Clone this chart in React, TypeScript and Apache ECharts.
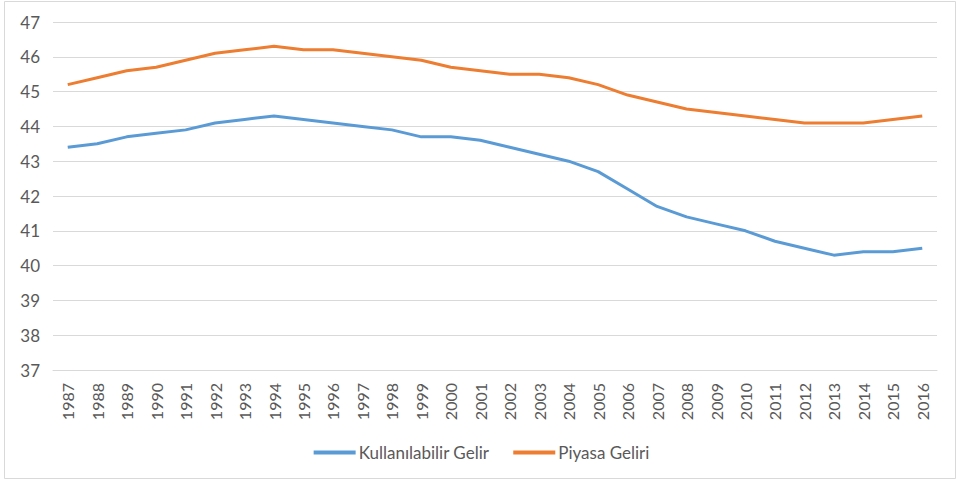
import React, { useEffect, useRef } from "react";
import * as echarts from "echarts";

const years = [
  "1987", "1988", "1989", "1990", "1991", "1992", "1993", "1994", "1995", "1996",
  "1997", "1998", "1999", "2000", "2001", "2002", "2003", "2004", "2005", "2006",
  "2007", "2008", "2009", "2010", "2011", "2012", "2013", "2014", "2015", "2016",
];

const kullanilabilirGelir = [
  43.4, 43.5, 43.7, 43.8, 43.9, 44.1, 44.2, 44.3, 44.2, 44.1,
  44.0, 43.9, 43.7, 43.7, 43.6, 43.4, 43.2, 43.0, 42.7, 42.2,
  41.7, 41.4, 41.2, 41.0, 40.7, 40.5, 40.3, 40.4, 40.4, 40.5,
];

const piyasaGeliri = [
  45.2, 45.4, 45.6, 45.7, 45.9, 46.1, 46.2, 46.3, 46.2, 46.2,
  46.1, 46.0, 45.9, 45.7, 45.6, 45.5, 45.5, 45.4, 45.2, 44.9,
  44.7, 44.5, 44.4, 44.3, 44.2, 44.1, 44.1, 44.1, 44.2, 44.3,
];

const FONT = "Lato, 'Open Sans', sans-serif";

export default function App() {
  const ref = useRef<HTMLDivElement>(null);
  useEffect(() => {
    if (!ref.current) return;
    const chart = echarts.init(ref.current, undefined, { renderer: "svg" });
    chart.setOption({
      animation: false,
      backgroundColor: "#ffffff",
      textStyle: { fontFamily: FONT },
      graphic: [
        {
          type: "rect",
          shape: { x: 4.5, y: 1.5, width: 951, height: 477 },
          style: { fill: "none", stroke: "#d9d9d9", lineWidth: 1 },
          silent: true,
        },
      ],
      grid: { left: 53, right: 26, top: 22, bottom: 111, containLabel: false },
      legend: {
        top: 439,
        left: "center",
        itemWidth: 42,
        itemHeight: 4,
        itemGap: 24,
        icon: "rect",
        textStyle: { color: "#595959", fontSize: 17, fontFamily: FONT, padding: [0, 0, 0, -2] },
        data: ["Kullanılabilir Gelir", "Piyasa Geliri"],
      },
      xAxis: {
        type: "category",
        data: years,
        boundaryGap: true,
        axisLine: { show: true, lineStyle: { color: "#d9d9d9", width: 1 } },
        axisTick: { show: false },
        axisLabel: {
          rotate: 90,
          interval: 0,
          color: "#595959",
          fontSize: 16,
          fontFamily: FONT,
          margin: 13,
        },
      },
      yAxis: {
        type: "value",
        min: 37,
        max: 47,
        interval: 1,
        axisLine: { show: false },
        axisTick: { show: false },
        splitLine: { lineStyle: { color: "#d9d9d9", width: 1 } },
        axisLabel: { color: "#595959", fontSize: 17, fontFamily: FONT, margin: 13 },
      },
      series: [
        {
          name: "Kullanılabilir Gelir",
          type: "line",
          data: kullanilabilirGelir,
          symbol: "none",
          lineStyle: { color: "#5B9BD5", width: 3 },
          itemStyle: { color: "#5B9BD5" },
        },
        {
          name: "Piyasa Geliri",
          type: "line",
          data: piyasaGeliri,
          symbol: "none",
          lineStyle: { color: "#ED7D31", width: 3 },
          itemStyle: { color: "#ED7D31" },
        },
      ],
    });
    return () => chart.dispose();
  }, []);
  return (
    <div
      ref={ref}
      style={{ position: "fixed", left: 0, top: 0, width: 963, height: 481 }}
    />
  );
}
